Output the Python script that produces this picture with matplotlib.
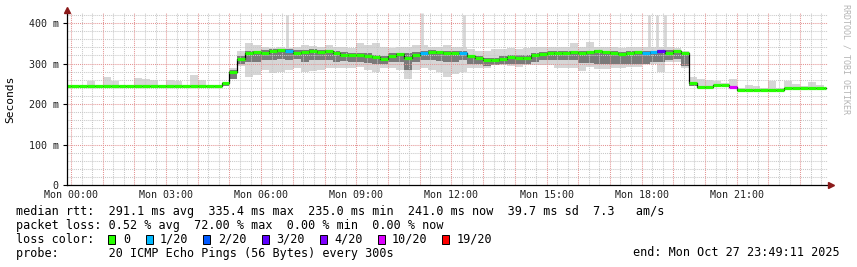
import numpy as np
import matplotlib
matplotlib.use("Agg")
import matplotlib.pyplot as plt
from matplotlib.patches import Rectangle

# ------------------------------------------------------------------ data
# 15-minute slots starting at -0:15 (hours since Mon 00:00)
slot_start = list(np.arange(-0.25, 24.0, 0.25))
end_hour = 23 + 49 / 60 + 11 / 3600

median_ms = [
    244, 244, 244, 244, 244, 244, 244, 244, 244, 244,
    244, 244, 244, 244, 244, 244, 244, 244, 244, 244,
    252, 278, 312, 325, 328, 327, 331, 333, 332, 327, 329, 331, 329, 330, 326, 321,
    321, 322, 319, 317, 311, 318, 323, 315, 322, 326, 329, 328, 326, 326,
    327, 318, 314, 309, 308, 312, 317, 314, 313, 321, 324, 325, 326, 326, 328,
    327, 328, 330, 328, 327, 323, 327, 329, 326, 328, 330, 327, 331, 325,
    252, 241, 241, 248, 248, 242,
    235, 235, 235, 235, 235, 235,
    240, 240, 240, 240, 240, 240,
]

loss_pings = [
    0, 0, 0, 0, 0, 0, 0, 0, 0, 0,
    0, 0, 0, 0, 0, 0, 0, 0, 0, 0,
    0, 0, 0, 0, 0, 0, 0, 0, 1, 0, 0, 0, 0, 0, 0, 0,
    0, 0, 0, 0, 0, 0, 0, 0, 0, 1, 0, 0, 0, 0,
    1, 0, 0, 0, 0, 0, 0, 0, 0, 0, 0, 0, 0, 0, 0,
    0, 0, 0, 0, 0, 0, 0, 0, 1, 1, 3, 0, 0, 0,
    0, 0, 0, 0, 0, 10,
    0, 0, 0, 0, 0, 0,
    0, 0, 0, 0, 0, 0,
]

smoke_outer_hi = [
    246, 246, 246, 257, 246, 267, 257, 248, 246, 265,
    262, 260, 248, 259, 257, 246, 272, 260, 248, 246,
    255, 290, 330, 352, 345, 340, 338, 340, 338, 340, 345, 343, 340, 345, 342, 340,
    338, 352, 345, 350, 340, 338, 340, 340, 345, 345, 340, 340, 345, 340,
    340, 335, 332, 330, 335, 337, 338, 337, 338, 340, 340, 340, 340, 342, 350,
    342, 354, 340, 340, 340, 338, 340, 340, 340, 340, 340, 340, 338, 330,
    268, 262, 260, 258, 252, 262,
    240, 246, 244, 240, 256, 240,
    256, 250, 244, 254, 246, 242,
]

smoke_outer_lo = [
    244, 244, 244, 244, 244, 244, 244, 244, 244, 244,
    244, 244, 244, 244, 244, 244, 244, 244, 244, 244,
    244, 262, 295, 268, 272, 285, 276, 278, 285, 290, 280, 282, 285, 288, 290, 290,
    288, 292, 285, 278, 290, 288, 285, 262, 285, 290, 285, 280, 268, 275,
    280, 288, 290, 290, 296, 296, 295, 292, 296, 296, 296, 296, 288, 288, 290,
    282, 292, 286, 286, 288, 288, 292, 292, 300, 300, 280, 304, 304, 290,
    244, 241, 241, 248, 248, 242,
    235, 235, 235, 235, 235, 235,
    240, 240, 240, 240, 240, 240,
]

smoke_inner_lo = [
    244, 244, 244, 244, 244, 244, 244, 244, 244, 244,
    244, 244, 244, 244, 244, 244, 244, 244, 244, 244,
    244, 262, 298, 305, 305, 308, 310, 312, 310, 312, 305, 310, 308, 310, 305, 306,
    305, 305, 302, 300, 298, 305, 305, 285, 305, 308, 308, 306, 305, 305,
    308, 300, 298, 295, 296, 298, 300, 300, 300, 305, 308, 308, 308, 308, 308,
    302, 302, 300, 300, 300, 300, 298, 298, 300, 305, 305, 310, 312, 295,
    244, 241, 241, 248, 248, 242,
    235, 235, 235, 235, 235, 235,
    240, 240, 240, 240, 240, 240,
]

smoke_inner_hi = [
    244, 244, 244, 244, 244, 244, 244, 244, 244, 244,
    244, 244, 244, 244, 244, 244, 244, 244, 244, 244,
    250, 285, 318, 330, 332, 333, 335, 336, 335, 333, 333, 335, 333, 334, 330, 328,
    326, 327, 325, 322, 318, 325, 327, 326, 328, 332, 333, 332, 330, 330,
    332, 322, 318, 314, 314, 318, 322, 320, 320, 326, 328, 330, 330, 330, 332,
    330, 331, 333, 330, 330, 328, 330, 332, 330, 332, 333, 333, 334, 328,
    255, 241, 241, 248, 248, 242,
    235, 235, 235, 235, 235, 235,
    240, 240, 240, 240, 240, 240,
]

spike_hours = [6.82, 11.07, 12.39, 18.22, 18.49, 18.74]
spike_base_ms = [334, 332, 330, 330, 332, 332]
spike_top_ms = [420, 424, 420, 420, 420, 420]

xtick_hours = [0, 3, 6, 9, 12, 15, 18, 21]
xtick_labels = ["Mon 00:00", "Mon 03:00", "Mon 06:00", "Mon 09:00",
                "Mon 12:00", "Mon 15:00", "Mon 18:00", "Mon 21:00"]
ytick_ms = [0, 100, 200, 300, 400]
ytick_labels = ["0", "100 m", "200 m", "300 m", "400 m"]

loss_levels = [0, 1, 2, 3, 4, 10, 19]
loss_labels = ["0", "1/20", "2/20", "3/20", "4/20", "10/20", "19/20"]
loss_colors = ["#26ff00", "#00b8ff", "#0059ff", "#5e00ff", "#7e00ff", "#dd00ff", "#ff0000"]

line_rtt = "median rtt:  291.1 ms avg  335.4 ms max  235.0 ms min  241.0 ms now  39.7 ms sd  7.3   am/s"
line_loss = "packet loss: 0.52 % avg  72.00 % max  0.00 % min  0.00 % now"
line_color = "loss color:"
line_probe = "probe:       20 ICMP Echo Pings (56 Bytes) every 300s"
line_end = "end: Mon Oct 27 23:49:11 2025"
watermark = "RRDTOOL / TOBI OETIKER"
ylabel = "Seconds"

# ------------------------------------------------------------------ figure
W, H = 857, 267
fig = plt.figure(figsize=(W / 100, H / 100), dpi=100)
fig.patch.set_facecolor("white")
MONO = "DejaVu Sans Mono"


def fx(px):
    return px / W


def fy(py):
    return 1 - py / H


ax = fig.add_axes([fx(67), fy(185), (828 - 67) / W, (185 - 13) / H])
ax.set_facecolor("white")
ax.set_xlim(-0.126, 23.88)
ax.set_ylim(0, 425)

# grid (drawn under the data lines, over the smoke)
for h in np.arange(-0.0, 24.0, 1 / 3):
    if abs(h - round(h)) > 1e-6:
        ax.axvline(h, color="#c8c8c8", lw=0.75, ls=(0, (1, 1)), zorder=1.5)
for h in range(0, 24):
    ax.axvline(h, color="#e49494", lw=0.75, ls=(0, (1, 1)), zorder=1.6)
for v in range(20, 425, 20):
    if v % 100:
        ax.axhline(v, color="#c8c8c8", lw=0.75, ls=(0, (1, 1)), zorder=1.5)
for v in (100, 200, 300, 400):
    ax.axhline(v, color="#e49494", lw=0.75, ls=(0, (1, 1)), zorder=1.6)

# smoke
edges = slot_start + [end_hour]


def ext(a):
    return list(a) + [a[-1]]


ax.fill_between(edges, ext(smoke_outer_lo), ext(smoke_outer_hi), step="post",
                color="#d6d6d6", lw=0, zorder=1)
ax.fill_between(edges, ext(smoke_inner_lo), ext(smoke_inner_hi), step="post",
                color="#7a7a7a", lw=0, zorder=1.1)
ax.vlines(spike_hours, spike_base_ms, spike_top_ms, color="#d6d6d6", lw=2.0, zorder=1.05)

# median line
ax.step(edges, ext(median_ms), where="post", color="#000000", lw=0.9, zorder=2)


def loss_color(n):
    c = loss_colors[0]
    for lvl, col in zip(loss_levels, loss_colors):
        if n >= lvl:
            c = col
    return c


seg_end = [min(s + 0.25, end_hour) for s in slot_start]
ax.hlines(median_ms, slot_start, seg_end, colors=[loss_color(n) for n in loss_pings],
          lw=2.3, zorder=3, capstyle="butt")

# axes styling
for s in ("top", "right"):
    ax.spines[s].set_visible(False)
for s in ("left", "bottom"):
    ax.spines[s].set_color("#000000")
    ax.spines[s].set_linewidth(0.9)
    ax.spines[s].set_zorder(4)

ax.set_xticks(xtick_hours)
ax.set_xticklabels(xtick_labels, fontfamily=MONO, fontsize=7.2, color="#202020")
ax.set_yticks(ytick_ms)
ax.set_yticklabels(ytick_labels, fontfamily=MONO, fontsize=7.2, color="#202020")
ax.tick_params(axis="x", length=0, pad=3.5)
ax.tick_params(axis="y", length=3, width=0.8, color="#000000", pad=3)

# arrows
ax.plot([0], [1.018], marker="^", ms=4.5, color="#8b1a1a", transform=ax.transAxes,
        clip_on=False, zorder=5)
ax.plot([1.004], [0], marker=">", ms=4.5, color="#8b1a1a", transform=ax.transAxes,
        clip_on=False, zorder=5)

# labels
fig.text(fx(10.5), fy(99), ylabel, rotation=90, ha="center", va="center",
         fontfamily=MONO, fontsize=8.1, color="#000000")
fig.text(fx(846), fy(4), watermark, rotation=270, ha="center", va="top",
         fontfamily=MONO, fontsize=6.0, color="#b4b4b4")

FS = 8.5
fig.text(fx(16), fy(211), line_rtt, ha="left", va="center", fontfamily=MONO, fontsize=FS)
fig.text(fx(16), fy(225.5), line_loss, ha="left", va="center", fontfamily=MONO, fontsize=FS)
fig.text(fx(16), fy(239.3), line_color, ha="left", va="center", fontfamily=MONO, fontsize=FS)
fig.text(fx(16), fy(253), line_probe, ha="left", va="center", fontfamily=MONO, fontsize=FS)
fig.text(fx(840), fy(253), line_end, ha="right", va="center", fontfamily=MONO, fontsize=FS)

box_x = [108, 146, 203, 262, 320, 378, 442]
lab_x = [123, 160, 218, 276, 334, 392, 457]
for bx, lx, col, lab in zip(box_x, lab_x, loss_colors, loss_labels):
    fig.add_artist(Rectangle((fx(bx), fy(243.5)), 7 / W, 8.5 / H, transform=fig.transFigure,
                             facecolor=col, edgecolor="#000000", lw=0.7))
    fig.text(fx(lx), fy(239.3), lab, ha="left", va="center", fontfamily=MONO, fontsize=FS)

fig.savefig("out.png", dpi=100, facecolor="white")
